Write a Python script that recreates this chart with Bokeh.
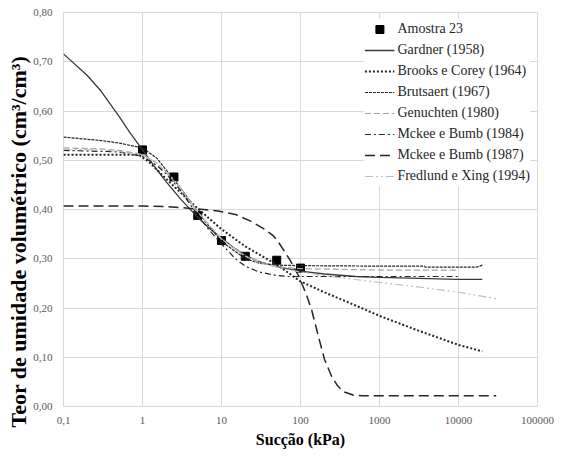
from bokeh.plotting import figure
from bokeh.models import Range1d, CustomJSTickFormatter, FixedTicker, Legend, LegendItem, Title
from bokeh.embed import file_html
from bokeh.resources import INLINE

# ---- data ----
x_ticks = [0.1, 1, 10, 100, 1000, 10000, 100000]
y_ticks = [0.0, 0.1, 0.2, 0.3, 0.4, 0.5, 0.6, 0.7, 0.8]

amostra_x = [1, 2.5, 5, 10, 20, 50, 100]
amostra_y = [0.521, 0.466, 0.388, 0.337, 0.305, 0.297, 0.281]

gardner_x = [0.1, 0.2, 0.3, 0.5, 0.7, 1, 1.5, 2, 3, 5, 7, 10, 15, 20, 30, 50, 100, 200, 500, 1000, 10000, 20000]
gardner_y = [0.716, 0.672, 0.640, 0.590, 0.555, 0.521, 0.482, 0.456, 0.422, 0.384, 0.362, 0.342, 0.320, 0.307, 0.294, 0.284, 0.275, 0.269, 0.264, 0.262, 0.258, 0.258]

brooks_x = [0.1, 0.9, 1.2, 2, 3, 5, 10, 20, 50, 100, 200, 500, 1000, 3000, 10000, 20000]
brooks_y = [0.511, 0.511, 0.497, 0.462, 0.435, 0.402, 0.360, 0.325, 0.288, 0.254, 0.232, 0.205, 0.184, 0.155, 0.125, 0.112]

brutsaert_x = [0.1, 0.3, 0.5, 1, 1.5, 2, 3, 5, 10, 20, 30, 50, 100, 1000, 3700, 3800, 17000, 20000]
brutsaert_y = [0.547, 0.540, 0.535, 0.525, 0.505, 0.480, 0.445, 0.395, 0.335, 0.300, 0.291, 0.287, 0.286, 0.285, 0.285, 0.283, 0.283, 0.287]

genuchten_x = [0.1, 0.3, 0.5, 1, 1.5, 2, 3, 5, 10, 20, 30, 50, 100, 1000, 10000]
genuchten_y = [0.525, 0.523, 0.520, 0.512, 0.495, 0.475, 0.443, 0.395, 0.340, 0.305, 0.292, 0.284, 0.280, 0.277, 0.277]

mckee84_x = [0.1, 0.5, 1, 1.5, 2, 3, 5, 7, 10, 15, 20, 30, 50, 70, 100, 10000]
mckee84_y = [0.520, 0.517, 0.508, 0.490, 0.472, 0.440, 0.388, 0.358, 0.330, 0.300, 0.285, 0.273, 0.266, 0.264, 0.264, 0.264]

mckee87_x = [0.1, 1, 2, 3, 5, 9, 15, 23, 35, 45, 52, 72, 95, 120, 139, 170, 202, 250, 295, 350, 471, 600, 30000]
mckee87_y = [0.407, 0.407, 0.406, 0.404, 0.401, 0.397, 0.390, 0.377, 0.360, 0.347, 0.335, 0.300, 0.265, 0.225, 0.195, 0.140, 0.095, 0.060, 0.042, 0.030, 0.023, 0.022, 0.022]

fredlund_x = [0.1, 0.3, 0.5, 1, 1.5, 2, 3, 5, 10, 20, 50, 100, 300, 1000, 3000, 10000, 30000]
fredlund_y = [0.522, 0.521, 0.518, 0.510, 0.495, 0.477, 0.445, 0.395, 0.340, 0.305, 0.283, 0.273, 0.262, 0.252, 0.243, 0.232, 0.219]

FONT = "Liberation Serif"

p = figure(width=554, height=450, x_axis_type="log",
           x_range=Range1d(0.1, 100000), y_range=Range1d(0, 0.8),
           output_backend="svg", toolbar_location=None,
           min_border_left=63, min_border_right=17, min_border_top=12, min_border_bottom=40)

p.outline_line_color = "#d9d9d9"
p.background_fill_color = "white"

p.xaxis.ticker = FixedTicker(ticks=x_ticks, minor_ticks=[])
p.yaxis.ticker = FixedTicker(ticks=y_ticks, minor_ticks=[])
p.xgrid.ticker = FixedTicker(ticks=x_ticks, minor_ticks=[])
p.ygrid.ticker = FixedTicker(ticks=y_ticks, minor_ticks=[])
p.xgrid.grid_line_color = "#d9d9d9"
p.ygrid.grid_line_color = "#d9d9d9"

p.xaxis.formatter = CustomJSTickFormatter(code="return tick < 1 ? tick.toString().replace('.', ',') : Math.round(tick).toString();")
p.yaxis.formatter = CustomJSTickFormatter(code="return tick.toFixed(2).replace('.', ',');")

for ax in (p.xaxis, p.yaxis):
    ax.axis_line_color = None
    ax.major_tick_line_color = None
    ax.minor_tick_line_color = None
    ax.major_tick_out = 0
    ax.major_tick_in = 0
    ax.major_label_text_font = FONT
    ax.major_label_text_font_size = "11px"
    ax.major_label_text_color = "#595959"
    ax.axis_label_text_font = FONT
    ax.axis_label_text_font_style = "bold"
    ax.axis_label_text_color = "#000000"

p.xaxis.axis_label = "Sucção (kPa)"
p.xaxis.axis_label_text_font_size = "16px"
p.xaxis.major_label_standoff = 10
p.xaxis.axis_label_standoff = 4
p.yaxis.major_label_standoff = 11

ytitle = Title(text="Teor de umidade volumétrico (cm³/cm³)", align="left", offset=-21,
               text_font=FONT, text_font_size="22px", text_font_style="bold",
               text_color="#000000", standoff=0)
p.add_layout(ytitle, "left")

r_pts = p.scatter(amostra_x, amostra_y, marker="square", size=8, color="black")
r_g = p.line(gardner_x, gardner_y, line_color="#3a3a3a", line_width=1.3)
r_b = p.line(brooks_x, brooks_y, line_color="#262626", line_width=2, line_dash="2 2")
r_bt = p.line(brutsaert_x, brutsaert_y, line_color="#262626", line_width=1.2, line_dash="3 1")
r_ge = p.line(genuchten_x, genuchten_y, line_color="#a6a6a6", line_width=1.2, line_dash="6 3")
r_m84 = p.line(mckee84_x, mckee84_y, line_color="#262626", line_width=1.2, line_dash="6 3 2 3")
r_m87 = p.line(mckee87_x, mckee87_y, line_color="#262626", line_width=1.5, line_dash="10 5")
r_fx = p.line(fredlund_x, fredlund_y, line_color="#bfbfbf", line_width=1.2, line_dash="8 3 2 3 2 3")

legend = Legend(items=[
    LegendItem(label="Amostra 23", renderers=[r_pts]),
    LegendItem(label="Gardner (1958)", renderers=[r_g]),
    LegendItem(label="Brooks e Corey (1964)", renderers=[r_b]),
    LegendItem(label="Brutsaert (1967)", renderers=[r_bt]),
    LegendItem(label="Genuchten (1980)", renderers=[r_ge]),
    LegendItem(label="Mckee e Bumb (1984)", renderers=[r_m84]),
    LegendItem(label="Mckee e Bumb (1987)", renderers=[r_m87]),
    LegendItem(label="Fredlund e Xing (1994)", renderers=[r_fx]),
], location="top_right")
legend.margin = 7
legend.padding = 5
legend.spacing = 1
legend.label_height = 20
legend.glyph_height = 20
legend.glyph_width = 30
legend.label_standoff = 3
legend.label_text_font = FONT
legend.label_text_font_size = "14px"
legend.label_text_color = "#262626"
legend.border_line_color = None
legend.background_fill_color = "white"
legend.background_fill_alpha = 1.0
p.add_layout(legend)

open("out.html", "w").write(file_html(p, INLINE))
